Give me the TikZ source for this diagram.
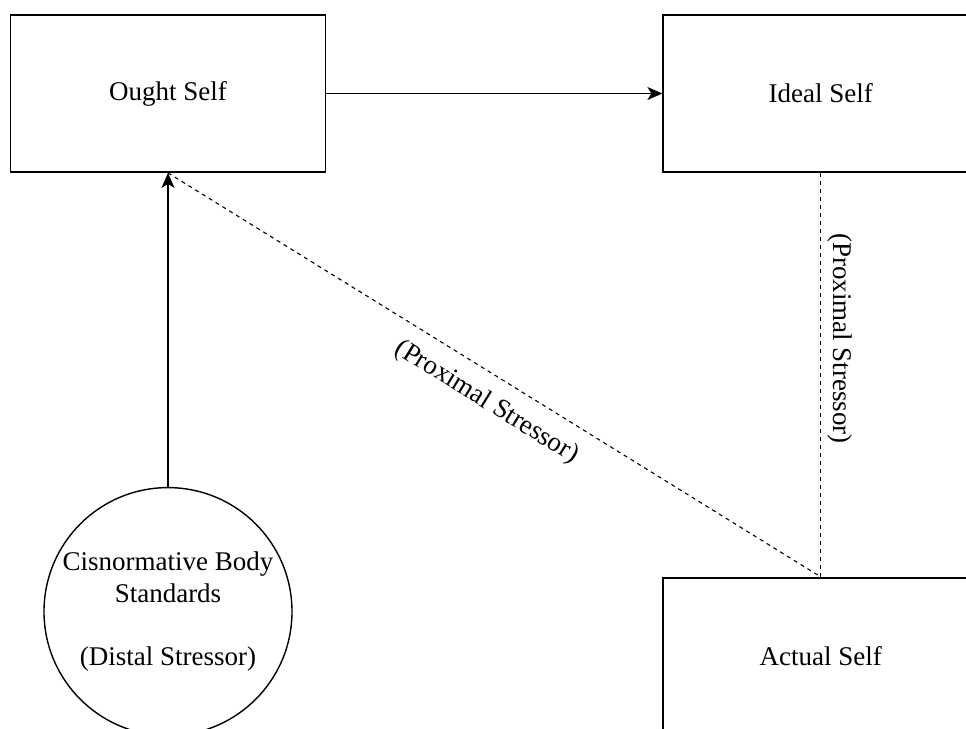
\documentclass[tikz,border=0pt]{standalone}
\usepackage{fontspec}
\setmainfont{Liberation Serif}
\usetikzlibrary{positioning,arrows.meta}
\tikzset{selfbox/.style={draw,line width=0.9pt,minimum width=157.5pt,minimum height=78.5pt,inner sep=0pt},
  stressor/.style={draw,circle,line width=0.7pt,minimum size=124pt,inner sep=0pt,align=center},
  proximal/.style={dashed,dash pattern=on 2pt off 2pt,line width=0.55pt},
  >={Stealth[length=7.5pt,width=6.5pt,inset=2pt]}}

\begin{document}
\begin{tikzpicture}[font=\fontsize{13.5}{15.75}\selectfont]
           \clip (0,0) rectangle (483pt,-364.5pt);
           \node[selfbox] (ought) at (84pt,-46.75pt) {Ought Self};
           \node[selfbox] (ideal) [right=168pt of ought] {Ideal Self};
           \node[selfbox] (actual) [below=202pt of ideal] {Actual Self};
           \node[stressor] (cisnorm) [below=157pt of ought] {Cisnormative Body\\Standards\\[15.75pt](Distal Stressor)};
            \path[->,line width=0.85pt]
            (cisnorm) edge (ought)
            (ought) edge (ideal);
            \path[proximal]
            (ought.south) edge node [sloped,pos=0.51,below=4pt] {(Proximal Stressor)} (actual.north)
            (ideal.south) edge node [sloped,pos=0.41,above] {(Proximal Stressor)} (actual.north);
        \end{tikzpicture}
\end{document}
